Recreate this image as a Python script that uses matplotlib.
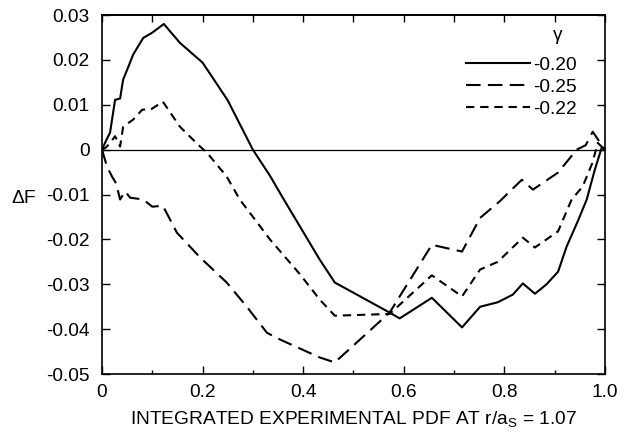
import matplotlib
matplotlib.use("Agg")
import matplotlib.pyplot as plt
from matplotlib.ticker import FixedLocator, FuncFormatter

plt.rcParams['font.family'] = ['Liberation Sans', 'DejaVu Sans']
plt.rcParams['axes.unicode_minus'] = False

# gamma = -0.20 (solid)
x_a = [0, 0.008, 0.016, 0.026, 0.036, 0.042, 0.05, 0.062, 0.082, 0.099, 0.123,
       0.155, 0.20, 0.25, 0.30, 0.334, 0.36, 0.433, 0.463, 0.572, 0.592, 0.656,
       0.716, 0.752, 0.787, 0.817, 0.837, 0.861, 0.884, 0.907, 0.924, 0.946,
       0.964, 0.98, 0.994, 1.0]
y_a = [0, 0.002, 0.0038, 0.0111, 0.0114, 0.0156, 0.0178, 0.0212, 0.0249, 0.026,
       0.028, 0.0238, 0.0194, 0.011, 0, -0.0058, -0.0108, -0.0245, -0.0296,
       -0.0363, -0.0376, -0.033, -0.0396, -0.035, -0.034, -0.0323, -0.0298,
       -0.0321, -0.030, -0.0272, -0.0216, -0.016, -0.0111, -0.0045, 0.0005, 0]

# gamma = -0.25 (long dash)
x_b = [0, 0.01, 0.02, 0.028, 0.036, 0.046, 0.056, 0.082, 0.10, 0.121, 0.149,
       0.195, 0.248, 0.288, 0.328, 0.354, 0.433, 0.463, 0.572, 0.656, 0.716,
       0.752, 0.791, 0.835, 0.857, 0.907, 0.944, 0.962, 0.976, 0.985, 0.994, 1.0]
y_b = [0, -0.0038, -0.006, -0.0075, -0.0111, -0.0093, -0.0107, -0.0111, -0.0127,
       -0.0125, -0.0185, -0.024, -0.0296, -0.035, -0.0408, -0.0423, -0.0463,
       -0.0474, -0.0363, -0.0212, -0.0227, -0.0152, -0.0115, -0.0067, -0.0089,
       -0.0051, 0, 0.001, 0.004, 0.0025, 0.001, 0]

# gamma = -0.22 (short dash)
x_c = [0, 0.008, 0.016, 0.026, 0.036, 0.042, 0.062, 0.08, 0.099, 0.121, 0.155,
       0.195, 0.209, 0.248, 0.274, 0.334, 0.394, 0.433, 0.463, 0.572, 0.656,
       0.716, 0.752, 0.787, 0.837, 0.861, 0.907, 0.934, 0.956, 0.975, 0.986, 1.0]
y_c = [0, 0.0005, 0.0015, 0.003, 0.0007, 0.0051, 0.0067, 0.0089, 0.0091, 0.0107,
       0.0051, 0.0007, -0.0007, -0.006, -0.0111, -0.020, -0.0278, -0.0334,
       -0.037, -0.0366, -0.028, -0.0327, -0.0267, -0.025, -0.0196, -0.0218,
       -0.0182, -0.0111, -0.0082, -0.003, 0.0015, 0]

labels = ['-0.20', '-0.25', '-0.22']

fs = 13.8

fig = plt.figure(figsize=(6.32, 4.37), dpi=100)
ax = fig.add_axes([0.1614, 0.144, 0.7956, 0.8216])

lw = 1.5
ax.axhline(0, color='black', linewidth=0.9, zorder=1)
ax.plot(x_a, y_a, color='black', linewidth=lw, label=labels[0])
ax.plot(x_b, y_b, color='black', linewidth=lw, dashes=(7, 3.5), label=labels[1])
ax.plot(x_c, y_c, color='black', linewidth=lw, dashes=(4, 2.8), label=labels[2])

ax.set_xlim(0, 1.0)
ax.set_ylim(-0.05, 0.03)

ax.xaxis.set_major_locator(FixedLocator([0, 0.2, 0.4, 0.6, 0.8, 1.0]))
ax.xaxis.set_minor_locator(FixedLocator([0.1, 0.3, 0.5, 0.7, 0.9]))
ax.yaxis.set_major_locator(FixedLocator([-0.05, -0.04, -0.03, -0.02, -0.01, 0, 0.01, 0.02, 0.03]))
ax.xaxis.set_major_formatter(FuncFormatter(lambda v, p: '0' if abs(v) < 1e-9 else f'{v:.1f}'))
ax.yaxis.set_major_formatter(FuncFormatter(lambda v, p: '0' if abs(v) < 1e-9 else f'{v:.2f}'))

ax.tick_params(which='both', direction='in', right=True, width=1.0, labelsize=fs)
ax.tick_params(which='major', length=6)
ax.tick_params(axis='y', pad=9)
ax.tick_params(axis='x', pad=7)
ax.tick_params(which='minor', length=3)

top = ax.secondary_xaxis('top')
top.xaxis.set_major_locator(FixedLocator([0.1 * i for i in range(11)]))
top.tick_params(direction='in', length=5, width=1.0, labeltop=False)

for s in ax.spines.values():
    s.set_linewidth(1.2)
top.spines['top'].set_linewidth(1.2)

ax.set_xlabel(r'INTEGRATED EXPERIMENTAL PDF AT r/a$\mathregular{_S}$ = 1.07', fontsize=fs, labelpad=6)
ax.set_ylabel('\u0394F', fontsize=fs, rotation=0, va='center', ha='center')
ax.yaxis.set_label_coords(-0.155, 0.49)

leg = ax.legend(loc='upper right', bbox_to_anchor=(0.945, 0.885), frameon=False,
                fontsize=fs, handlelength=3.3, handletextpad=0.2, labelspacing=0.25,
                borderpad=0, borderaxespad=0)
ax.text(0.907, 0.942, '\u03b3', transform=ax.transAxes, fontsize=fs, ha='center', va='center')

fig.savefig('out.png', dpi=100)
